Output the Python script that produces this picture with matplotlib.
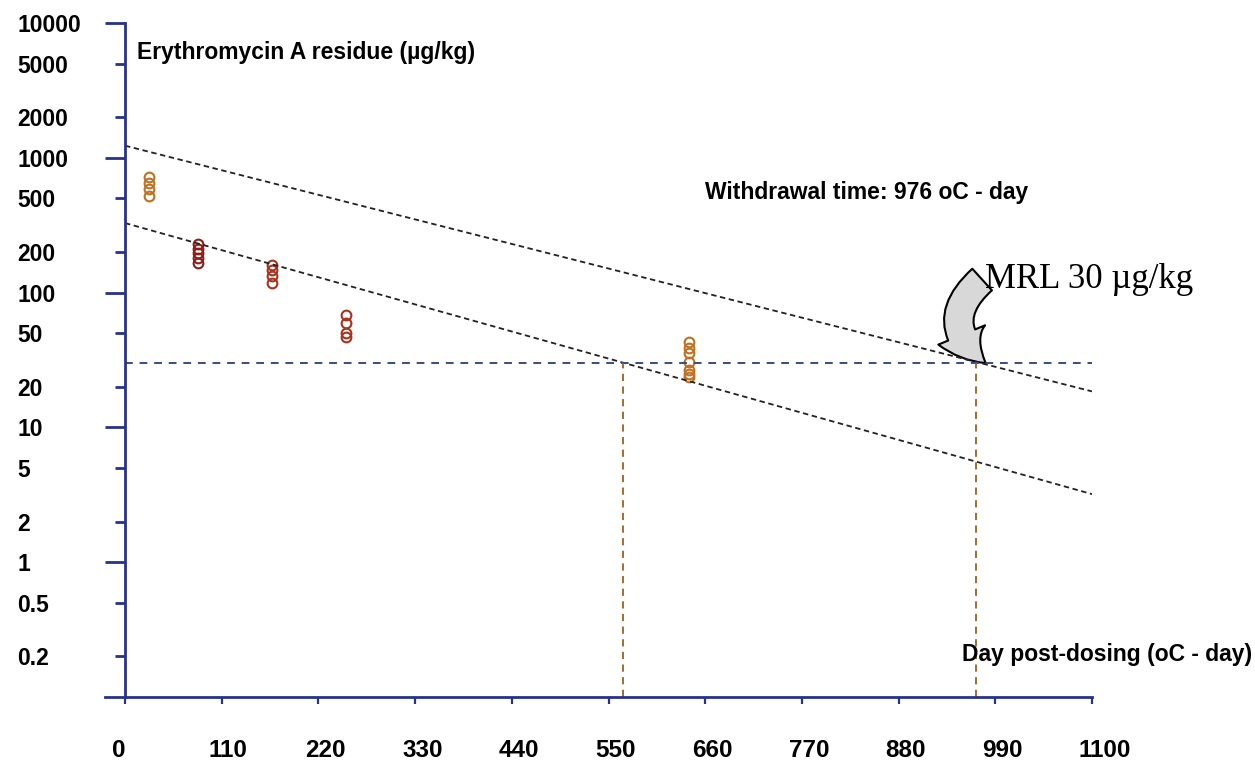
import numpy as np
import matplotlib
matplotlib.use("Agg")
import matplotlib.pyplot as plt
from matplotlib.patches import FancyArrowPatch
from matplotlib.transforms import ScaledTranslation

plt.rcParams['font.family'] = ['Liberation Sans', 'DejaVu Sans']

# residue data (oC-day, ug/kg)
days = [27, 83, 167, 251, 642]
residues = [
    [720, 650, 590, 520],
    [228, 212, 196, 182, 166],
    [160, 147, 133, 118],
    [68, 60, 50, 47],
    [43, 39, 35.5, 30.5, 26.5, 25, 23.5],
]
group_colors = ['#c0701f', '#8c1d18', '#a8321c', '#a8321c', '#c0701f']

# regression / tolerance lines (end points)
line_x = [0, 1100]
upper_y = [1230, 18.5]
lower_y = [328, 3.2]

mrl = 30
wd_lower = 567
wd_upper = 968

xticks = [0, 110, 220, 330, 440, 550, 660, 770, 880, 990, 1100]
major_y = [1, 10, 100, 1000, 10000]
minor_y = [0.2, 0.5, 2, 5, 20, 50, 200, 500, 2000, 5000]

blue = '#27328f'

fig = plt.figure(figsize=(12.55, 7.62), dpi=100)
ax = fig.add_axes([125 / 1255, 65 / 762, 967 / 1255, 674 / 762])
ax.set_yscale('log')
ax.set_xlim(0, 1100)
ax.set_ylim(0.1, 10000)

for x, ys, c in zip(days, residues, group_colors):
    ax.plot([x] * len(ys), ys, 'o', mfc='none', mec=c, ms=7, mew=1.5)

ax.plot(line_x, upper_y, color='#222222', ls=(0, (3, 2)), lw=1.3)
ax.plot(line_x, lower_y, color='#222222', ls=(0, (3, 2)), lw=1.3)
ax.plot([0, 1100], [mrl, mrl], color='#3a4a8a', ls=(0, (4, 3.5)), lw=1.4)
ax.plot([wd_lower, wd_lower], [0.1, mrl], color='#a0601c', ls=(0, (4, 3)), lw=1.3)
ax.plot([wd_upper, wd_upper], [0.1, mrl], color='#a0601c', ls=(0, (4, 3)), lw=1.3)

for s in ['top', 'right']:
    ax.spines[s].set_visible(False)
for s in ['left', 'bottom']:
    ax.spines[s].set_color(blue)
    ax.spines[s].set_linewidth(2)
# axis line runs a bit left of zero
ax.plot([-0.021, 0], [0, 0], transform=ax.transAxes, color=blue, lw=2, clip_on=False)

ax.set_xticks(xticks)
ax.set_xticklabels([str(t) for t in xticks], fontsize=17.5, fontweight='bold')
ax.tick_params(axis='x', length=5, width=1.6, color=blue, pad=25)

ax.set_yticks(major_y)
ax.set_yticklabels([f'{v:g}' for v in major_y], fontsize=16.5, fontweight='bold')
ax.set_yticks(minor_y, minor=True)
ax.set_yticklabels([f'{v:g}' for v in minor_y], minor=True, fontsize=16.5, fontweight='bold')
ax.tick_params(axis='y', which='major', length=14.4, width=2, color=blue, pad=63)
ax.tick_params(axis='y', which='minor', length=7.2, width=2, color=blue, pad=70.2)
for lab in ax.get_yticklabels() + ax.get_yticklabels(minor=True):
    lab.set_horizontalalignment('left')

# x labels start a little left of their tick
shift = ScaledTranslation(-13 / 100, 0, fig.dpi_scale_trans)
for lab in ax.get_xticklabels():
    lab.set_horizontalalignment('left')
    lab.set_transform(lab.get_transform() + shift)

fig.text(137 / 1255, 1 - 53 / 762, 'Erythromycin A residue (µg/kg)', fontsize=16.5,
         fontweight='bold', va='center', ha='left')
fig.text(705 / 1255, 1 - 193 / 762, 'Withdrawal time: 976 oC - day', fontsize=16.5,
         fontweight='bold', va='center', ha='left')
fig.text(962 / 1255, 1 - 655 / 762, 'Day post-dosing (oC - day)', fontsize=16.5,
         fontweight='bold', va='center', ha='left')

ax.text(978, 125, 'MRL 30 µg/kg', fontsize=25, family=['Liberation Serif', 'DejaVu Serif'],
        va='center', ha='left')
arrow = FancyArrowPatch((975, 125), (979, 30),
                        connectionstyle='arc3,rad=0.6',
                        arrowstyle='simple,head_width=2.6,head_length=1.9,tail_width=1.5',
                        mutation_scale=14, shrinkA=0, shrinkB=0,
                        fc='#d8d8d8', ec='black', lw=1.5)
ax.add_patch(arrow)

fig.savefig('out.png', dpi=100)
